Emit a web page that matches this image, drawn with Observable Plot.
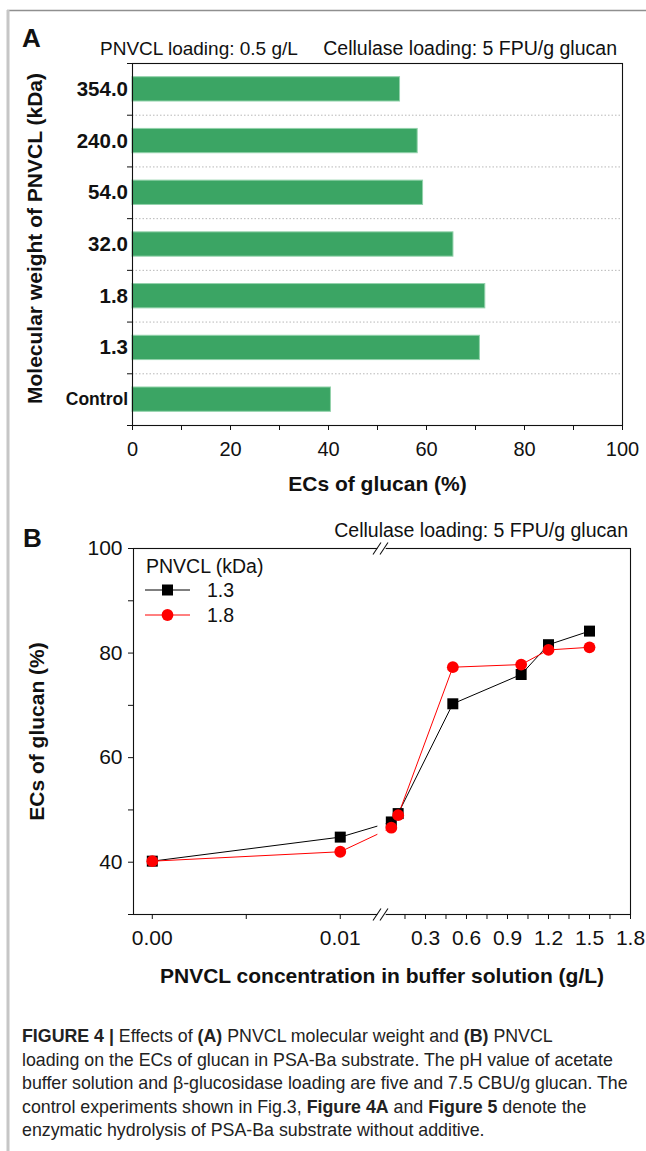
<!DOCTYPE html>
<html>
<head>
<meta charset="utf-8">
<script src="https://cdn.jsdelivr.net/npm/d3@7"></script>
<script src="https://cdn.jsdelivr.net/npm/@observablehq/plot@0.6"></script>
<style>
html, body { margin: 0; padding: 0; background: #fff; }
#page { position: relative; width: 646px; height: 1151px; overflow: hidden; background: #fff; }
#page svg { position: absolute; left: 0; }
</style>
</head>
<body>
<div id="page"></div>
<script>
// ---------- Panel A data ----------
const molWeights   = ["Control", "1.3", "1.8", "32.0", "54.0", "240.0", "354.0"]; // bottom -> top
const ecsByWeight  = [40.5, 70.9, 72.0, 65.5, 59.3, 58.2, 54.6];
const xMajorA      = [0, 20, 40, 60, 80, 100];
const xMinorA      = [10, 30, 50, 70, 90];

// ---------- Panel B data ----------
const concentrations = [0, 0.01, 0.05, 0.1, 0.5, 1.0, 1.2, 1.5];
const ecs13          = [40.2, 44.8, 47.7, 49.3, 70.3, 75.9, 81.6, 84.2];
const ecs18          = [40.2, 42.0, 46.6, 49.0, 77.3, 77.8, 80.6, 81.1];
const seriesNames    = ["1.3", "1.8"];
const seriesColors   = ["#000000", "#ff0000"];
const yDomainB       = [30, 100];
const yMajorB        = [40, 60, 80, 100];
const yMinorB        = [30, 50, 70, 90];
const xMajorB        = [0, 0.01, 0.3, 0.6, 0.9, 1.2, 1.5, 1.8];
const xMajorLabelsB  = ["0.00", "0.01", "0.3", "0.6", "0.9", "1.2", "1.5", "1.8"];
const xMinorB        = [0.005, 0.15, 0.45, 0.75, 1.05, 1.35, 1.65];
// broken x axis: two segments
const breakLeft  = [-0.001, 0.0123];
const breakRight = [0, 1.8];
const leftShare  = 0.503;
const gapShare   = 0.002;
const gapCut     = [0.012, 0.0124];   // lines are interrupted across the break

const W = 646, H = 1151;
const fontStack = '"Liberation Sans", Arial, Helvetica, sans-serif';
const ink = "#111";
const page = document.getElementById("page");

function brokenX(v) {
  if (v <= breakLeft[1]) return (v - breakLeft[0]) / (breakLeft[1] - breakLeft[0]) * leftShare;
  return leftShare + gapShare + (v - breakRight[0]) / (breakRight[1] - breakRight[0]) * (1 - leftShare - gapShare);
}

// ---------- Panel A ----------
const nA = molWeights.length;
const rowsA = molWeights.map((w, i) => ({w, i, v: ecsByWeight[i]}));
const centersA = d3.range(nA).map(i => i + 0.5);
const catLabel = d => molWeights[Math.floor(d)];

const plotA = Plot.plot({
  width: W, height: 510,
  marginTop: 63, marginRight: 24, marginBottom: 85, marginLeft: 132,
  style: {fontFamily: fontStack, color: ink, background: "transparent", overflow: "visible"},
  x: {domain: [0, 100]},
  y: {domain: [0, nA]},
  marks: [
    Plot.gridY(d3.range(1, nA), {stroke: "#b0b0b0", strokeOpacity: 1, strokeWidth: 0.9, strokeDasharray: "1.5 2"}),
    Plot.rectX(rowsA, {x: "v", y: "i", interval: 1, insetTop: 13.7, insetBottom: 13.7, fill: "#3ba564", stroke: "#93d2ab", strokeWidth: 1}),
    Plot.frame({stroke: ink, strokeWidth: 1.1}),
    Plot.axisX(xMinorA, {tickSize: 5, tickFormat: () => "", label: null}),
    Plot.axisX(xMajorA, {tickSize: 5, tickPadding: 11, fontSize: 20, label: null}),
    Plot.axisY(d3.range(0, nA + 1), {tickSize: 5, tickFormat: () => "", label: null}),
    Plot.axisY(centersA.slice(1), {tickSize: 0, tickPadding: 4.5, fontSize: 20.5, fontWeight: "bold", tickFormat: catLabel, label: null}),
    Plot.axisY(centersA.slice(0, 1), {tickSize: 0, tickPadding: 4.5, fontSize: 17.5, fontWeight: "bold", tickFormat: catLabel, label: null}),
    Plot.text(["Molecular weight of PNVCL (kDa)"], {frameAnchor: "left", textAnchor: "middle", dx: -97, dy: -6, rotate: -90, lineAnchor: "middle", fontSize: 21, fontWeight: "bold"}),
    Plot.text(["ECs of glucan (%)"], {frameAnchor: "bottom", textAnchor: "middle", dy: 59, lineAnchor: "middle", fontSize: 21, fontWeight: "bold"})
  ]
});
plotA.style.top = "0px";
page.appendChild(plotA);

// ---------- Panel B ----------
const rows13 = concentrations.map((c, i) => ({c, v: ecs13[i]}));
const rows18 = concentrations.map((c, i) => ({c, v: ecs18[i]}));
const labelByPos = new Map(xMajorB.map((v, i) => [brokenX(v), xMajorLabelsB[i]]));
const breakSymbol = {
  draw(ctx, size) {
    const s = Math.sqrt(size / Math.PI) / 6;
    ctx.moveTo(-7.5 * s, 6 * s); ctx.lineTo(0.5 * s, -6 * s);
    ctx.moveTo(-0.5 * s, 6 * s); ctx.lineTo(7.5 * s, -6 * s);
  }
};

const plotB = Plot.plot({
  width: W, height: 510,
  marginTop: 48, marginRight: 16, marginBottom: 96, marginLeft: 133,
  style: {fontFamily: fontStack, color: ink, background: "transparent", overflow: "visible"},
  x: {type: "linear", domain: [0, 1]},
  y: {domain: yDomainB},
  marks: [
    Plot.line(rows13, {x: d => brokenX(d.c), y: "v", stroke: seriesColors[0], strokeWidth: 1}),
    Plot.line(rows18, {x: d => brokenX(d.c), y: "v", stroke: seriesColors[1], strokeWidth: 1}),
    Plot.frame({stroke: ink, strokeWidth: 1.1}),
    Plot.rect([gapCut], {x1: d => brokenX(d[0]), x2: d => brokenX(d[1]), y1: () => yDomainB[0], y2: () => yDomainB[1], insetTop: -3, insetBottom: -3, fill: "white"}),
    Plot.dot(yDomainB, {x: () => brokenX(breakLeft[1]), y: d => d, symbol: breakSymbol, r: 6, stroke: ink, strokeWidth: 1.1, fill: "none", dx: -3}),
    Plot.dot(rows13, {x: d => brokenX(d.c), y: "v", symbol: "square", r: 6.2, fill: seriesColors[0], stroke: "none"}),
    Plot.dot(rows18, {x: d => brokenX(d.c), y: "v", symbol: "circle", r: 5.9, fill: seriesColors[1], stroke: "none"}),
    Plot.axisY(yMinorB, {tickSize: 5, tickFormat: () => "", label: null}),
    Plot.axisY(yMajorB, {tickSize: 5, tickPadding: 6, fontSize: 21, label: null}),
    Plot.axisX(xMinorB.map(brokenX), {tickSize: 5, tickFormat: () => "", label: null}),
    Plot.axisX(xMajorB.map(brokenX), {tickSize: 5, tickPadding: 11, fontSize: 21, tickFormat: u => labelByPos.get(u), label: null}),
    Plot.text(["ECs of glucan (%)"], {frameAnchor: "left", textAnchor: "middle", dx: -96, rotate: -90, lineAnchor: "middle", fontSize: 21, fontWeight: "bold"}),
    Plot.text(["PNVCL concentration in buffer solution (g/L)"], {frameAnchor: "bottom", textAnchor: "middle", dy: 61.5, lineAnchor: "middle", fontSize: 21, fontWeight: "bold"})
  ]
});
plotB.style.top = "500px";
page.appendChild(plotB);

// ---------- Overlay: panel letters, headers, legend, caption, border ----------
const ov = d3.create("svg").attr("width", W).attr("height", H)
  .style("top", "0px").style("pointer-events", "none")
  .style("font-family", fontStack);

function label(x, y, txt, size, weight, anchor) {
  return ov.append("text").attr("x", x).attr("y", y).attr("font-size", size)
    .attr("font-weight", weight || "normal").attr("text-anchor", anchor || "start")
    .attr("fill", ink).text(txt);
}
label(22, 47, "A", 26, "bold");
label(100, 55, "PNVCL loading: 0.5 g/L", 19);
label(617, 55, "Cellulase loading: 5 FPU/g glucan", 19.5, "normal", "end");
label(23, 547, "B", 26, "bold");
label(628, 537, "Cellulase loading: 5 FPU/g glucan", 19.5, "normal", "end");

// legend (panel B)
label(146, 573, "PNVCL (kDa)", 19.5);
seriesNames.forEach((name, i) => {
  const cy = 590 + i * 25;
  ov.append("line").attr("x1", 145).attr("x2", 190).attr("y1", cy).attr("y2", cy)
    .attr("stroke", seriesColors[i]).attr("stroke-width", 1);
  if (i === 0) {
    ov.append("rect").attr("x", 167.5 - 5.5).attr("y", cy - 5.5).attr("width", 11).attr("height", 11).attr("fill", seriesColors[i]);
  } else {
    ov.append("circle").attr("cx", 167.5).attr("cy", cy).attr("r", 5.9).attr("fill", seriesColors[i]);
  }
  label(207, cy + 7, name, 19.5);
});

// caption
const captionLines = [
  [["FIGURE 4 | ", true], ["Effects of ", false], ["(A)", true], [" PNVCL molecular weight and ", false], ["(B)", true], [" PNVCL", false]],
  [["loading on the ECs of glucan in PSA-Ba substrate. The pH value of acetate", false]],
  [["buffer solution and β-glucosidase loading are five and 7.5 CBU/g glucan. The", false]],
  [["control experiments shown in Fig.3, ", false], ["Figure 4A", true], [" and ", false], ["Figure 5", true], [" denote the", false]],
  [["enzymatic hydrolysis of PSA-Ba substrate without additive.", false]]
];
captionLines.forEach((segs, i) => {
  const t = ov.append("text").attr("x", 22).attr("y", 1042 + i * 23.5)
    .attr("font-size", 17.8).attr("fill", "#222");
  segs.forEach(([s, b]) => t.append("tspan").attr("font-weight", b ? "bold" : "normal").text(s));
});

// page border
ov.append("line").attr("x1", 7).attr("x2", W).attr("y1", 10.5).attr("y2", 10.5).attr("stroke", "#8f8f8f").attr("stroke-width", 1.5);
ov.append("line").attr("x1", 8).attr("x2", 8).attr("y1", 10).attr("y2", H).attr("stroke", "#c6c6c6").attr("stroke-width", 3);

page.appendChild(ov.node());
</script>
</body>
</html>
